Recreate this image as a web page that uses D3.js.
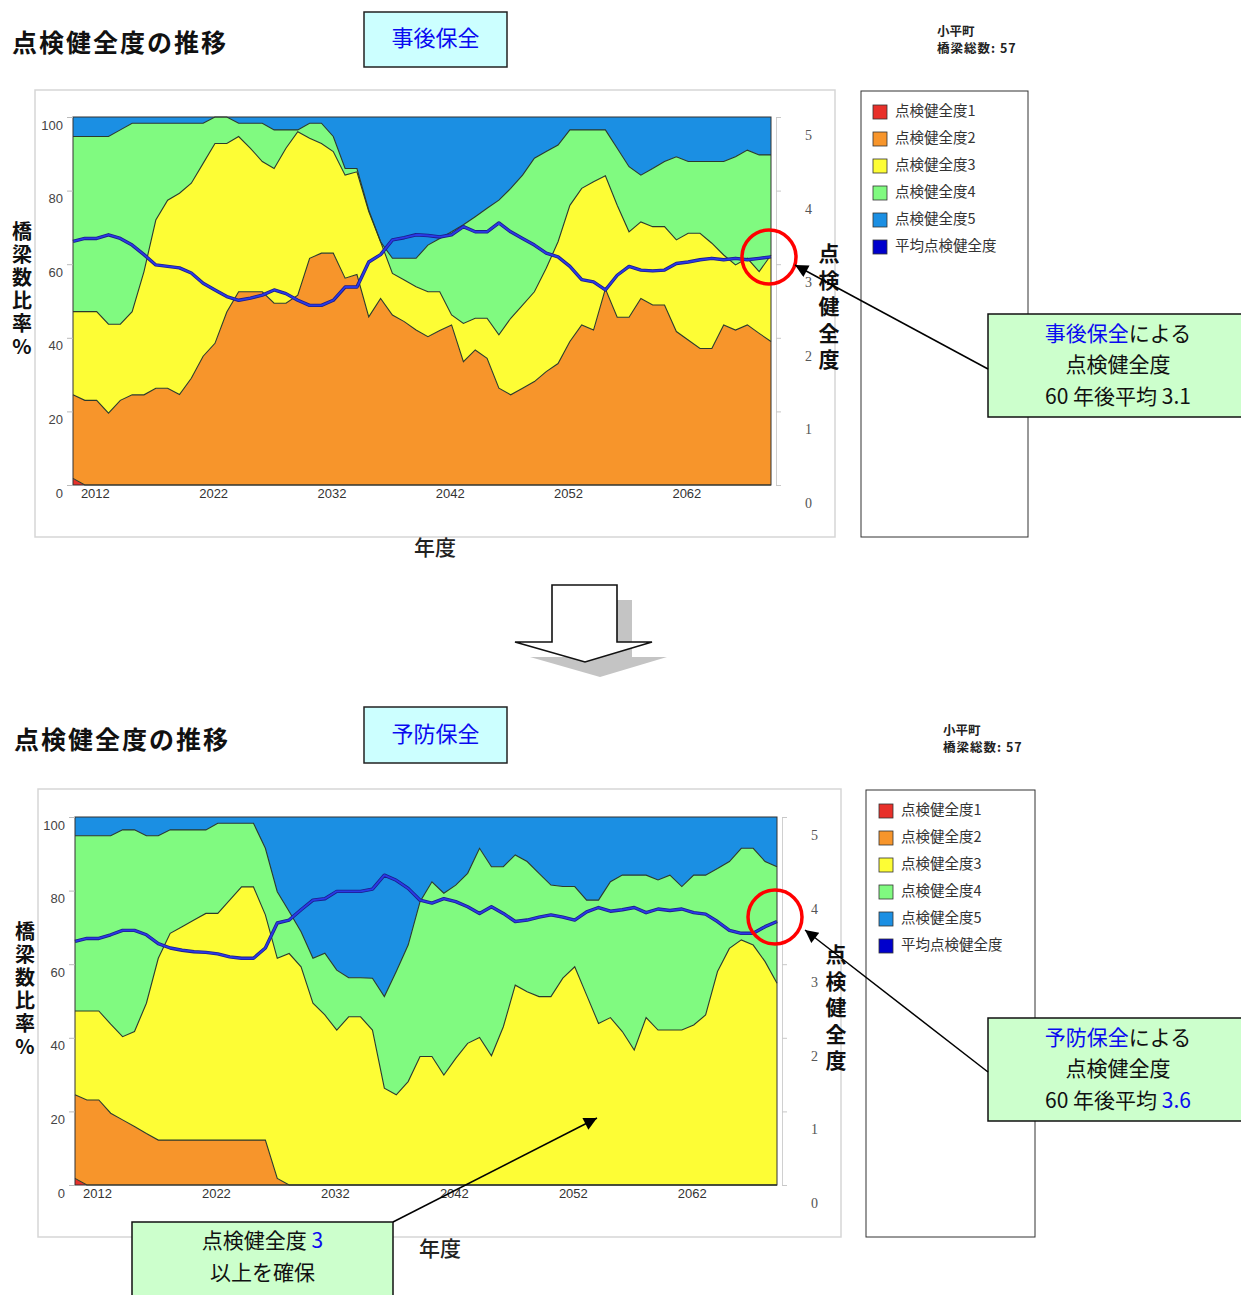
<!DOCTYPE html>
<html>
<head>
<meta charset="utf-8">
<script src="https://cdn.jsdelivr.net/npm/d3@7"></script>
<style>
  body { margin: 0; background: #fff; }
  svg { display: block; font-family: "Noto Sans CJK JP", "Noto Sans", sans-serif; }
  .vtitle { writing-mode: vertical-rl; text-orientation: upright; }
</style>
</head>
<body>
<div id="chart"></div>
<script>
// years 2011..2070 (60 annual steps)
const years = d3.range(2011, 2071);
const yearTicks = [2012, 2022, 2032, 2042, 2052, 2062];
const pctTicks = [0, 20, 40, 60, 80, 100];
const gradeTicks = [0, 1, 2, 3, 4, 5];

const levelKeys = ["lv1", "lv2", "lv3", "lv4", "lv5"];
const levelNames = ["点検健全度1", "点検健全度2", "点検健全度3", "点検健全度4", "点検健全度5"];
const avgName = "平均点検健全度";
const levelColors = ["#e8302a", "#f7952b", "#fdfd35", "#80fa80", "#1b8fe3"];

// 事後保全 : share of bridges (%) per grade
const jigoLv1 = [1.8,0,0,0,0,0,0,0,0,0, 0,0,0,0,0,0,0,0,0,0, 0,0,0,0,0,0,0,0,0,0,
  0,0,0,0,0,0,0,0,0,0, 0,0,0,0,0,0,0,0,0,0, 0,0,0,0,0,0,0,0,0,0];
const jigoLv2 = [22.7,23,23,19.5,23,24.5,24.5,26.3,26.3,24.6, 29,35,38.5,47,52.5,52.5,52.5,49.4,49.4,51.6,
  61.6,63,63,56.2,57.2,45.7,50.7,46.2,44.4,42.1, 40.3,42,43.5,33.5,36.7,34.4,26.3,24.5,26.3,28.1,
  30.8,33,39,43.5,42.1,53.3,45.6,45.6,50.7,48.9, 48.9,41.7,39.4,37.1,37.1,43.5,42.1,43.5,41.2,39];
const jigoLv3 = [22.6,24.1,24.1,24.2,20.7,22.6,33.5,45.7,51.1,54.7, 53,52.4,54.3,45.8,42.2,39,35.4,36.6,42.1,44.4,
  32.6,29.8,27.6,28,27.9,28.6,15.4,11.3,11.3,11.8, 12.2,10.5,2.7,10.4,8.6,10.9,14.5,20.8,22.6,24.4,
  28.1,33.1,37,37.1,40.3,30.7,30.4,23.2,20.8,21.3, 21.3,24.9,29,31.3,28.6,19,17.7,18.1,16.8,23.5];
const jigoLv4 = [47.6,47.6,47.6,51,52.8,51.2,40.3,26.3,20.9,19, 16.3,10.9,7.2,7.2,3.6,6.8,10.4,10.5,5,0.5,
  4.1,5.5,4.1,1.8,0.9,0.4,0,4.1,5.9,7.7, 12.7,14.5,22.6,26.8,27.6,29.9,36.6,35.3,35.3,36.3,
  31.7,26.3,20.5,15.9,14.1,12.5,15.5,17.7,12.7,15.8, 17.7,22.6,19.5,19.5,22.2,25.4,29.4,29.4,31.7,27.2];
const jigoLv5 = [5.3,5.3,5.3,5.3,3.5,1.7,1.7,1.7,1.7,1.7, 1.7,1.7,0,0,1.7,1.7,1.7,3.5,3.5,3.5,
  1.7,1.7,5.3,14,14,25.3,33.9,38.4,38.4,38.4, 34.8,33,31.2,29.3,27.1,24.8,22.6,19.4,15.8,11.2,
  9.4,7.6,3.5,3.5,3.5,3.5,8.5,13.5,15.8,14, 12.1,10.8,12.1,12.1,12.1,12.1,10.8,9,10.3,10.3];
const jigoAvg = [3.31,3.35,3.35,3.40,3.35,3.26,3.13,2.99,2.97,2.95, 2.88,2.74,2.65,2.56,2.51,2.54,2.58,2.65,2.60,2.51,
  2.44,2.44,2.51,2.69,2.69,3.03,3.13,3.33,3.36,3.40, 3.39,3.37,3.40,3.51,3.44,3.44,3.56,3.44,3.35,3.26,
  3.15,3.10,2.97,2.79,2.76,2.65,2.85,2.97,2.92,2.91, 2.92,3.01,3.03,3.06,3.08,3.06,3.08,3.06,3.08,3.10];

// 予防保全 : share of bridges (%) per grade
const yoboLv1 = [1.8,0,0,0,0,0,0,0,0,0, 0,0,0,0,0,0,0,0,0,0, 0,0,0,0,0,0,0,0,0,0,
  0,0,0,0,0,0,0,0,0,0, 0,0,0,0,0,0,0,0,0,0, 0,0,0,0,0,0,0,0,0,0];
const yoboLv2 = [22.7,23.1,23.1,19.5,17.7,15.9,14,12.2,12.2,12.2, 12.2,12.2,12.2,12.2,12.2,12.2,12.2,1.8,0,0,
  0,0,0,0,0,0,0,0,0,0, 0,0,0,0,0,0,0,0,0,0, 0,0,0,0,0,0,0,0,0,0, 0,0,0,0,0,0,0,0,0,0];
const yoboLv3 = [22.8,24.2,24.2,24.2,22.6,25.8,35.4,49.4,56.2,58, 59.8,61.6,61.6,65.2,68.8,68.8,61.2,59.8,62.9,59.3,
  49.4,46.2,42.1,45.7,45.7,42.1,26.3,24.5,28.1,34.9, 34.9,29.9,34.4,38.5,40.1,35.1,43,54.3,52.5,51.2,
  51.2,56.2,59.3,51.6,43.9,45.5,41.7,36.7,45.5,42.1, 42.1,42.1,43.5,46.2,58,64.3,66.6,65.2,60.7,54.8];
const yoboLv4 = [47.6,47.6,47.6,51.2,56.2,54.8,45.5,33.3,28.1,26.3, 24.5,22.7,24.5,20.9,17.3,17.3,18.1,18.1,11.4,9.5,
  12.2,16.8,16.3,10.6,10.6,14.1,24.9,33.5,37.1,42.1, 47.5,49.4,47.1,46.2,51.4,51.4,43.5,35.4,35.4,33.5,
  30.3,24.9,21.8,25.8,33.5,36.9,42.5,47.5,38.7,40.8, 42.1,39,40.7,38,28,23.6,24.9,26.3,27.2,31.7];
const yoboLv5 = [5.1,5.1,5.1,5.1,3.5,3.5,5.1,5.1,3.5,3.5, 3.5,3.5,1.7,1.7,1.7,1.7,8.5,20.3,25.7,31.2,
  38.4,37,41.6,43.7,43.7,43.8,48.8,42,34.8,23, 17.6,20.7,18.5,15.3,8.5,13.5,13.5,10.3,12.1,15.3,
  18.5,18.9,18.9,22.6,22.6,17.6,15.8,15.8,15.8,17.1, 15.8,18.9,15.8,15.8,14,12.1,8.5,8.5,12.1,13.5];
const yoboAvg = [3.31,3.35,3.35,3.40,3.46,3.46,3.40,3.28,3.22,3.19, 3.17,3.16,3.14,3.10,3.08,3.08,3.22,3.56,3.60,3.74,
  3.87,3.89,3.99,3.99,3.99,4.02,4.21,4.14,4.03,3.87, 3.83,3.89,3.85,3.78,3.69,3.78,3.69,3.58,3.60,3.64,
  3.67,3.64,3.60,3.71,3.77,3.72,3.74,3.77,3.70,3.75, 3.73,3.75,3.70,3.68,3.58,3.46,3.42,3.42,3.51,3.58];

const panels = [
  { series: [jigoLv1, jigoLv2, jigoLv3, jigoLv4, jigoLv5], avg: jigoAvg,
    x0: 73, x1: 771, y0: 117, y1: 485, frame: [35, 90, 800, 447],
    legend: [861, 91, 167, 446], legendY: 112, swatchX: 873,
    title: [12, 45], badge: [364, 12, 143, 55, "事後保全"], info: [937, 36],
    nendo: [435, 549], yTitle: [22, 221], rTitle: [829, 243] },
  { series: [yoboLv1, yoboLv2, yoboLv3, yoboLv4, yoboLv5], avg: yoboAvg,
    x0: 75, x1: 777, y0: 817, y1: 1185, frame: [38, 789, 803, 448],
    legend: [866, 790, 169, 447], legendY: 811, swatchX: 879,
    title: [14, 742], badge: [364, 707, 143, 56, "予防保全"], info: [943, 735],
    nendo: [440, 1250], yTitle: [25, 921], rTitle: [836, 944] }
];

const svg = d3.select("#chart").append("svg")
    .attr("width", 1241)
    .attr("height", 1295)
    .attr("viewBox", [0, 0, 1241, 1295]);

svg.append("defs").append("marker")
    .attr("id", "head")
    .attr("viewBox", "0 0 10 10")
    .attr("refX", 10).attr("refY", 5)
    .attr("markerWidth", 17).attr("markerHeight", 13)
    .attr("markerUnits", "userSpaceOnUse")
    .attr("orient", "auto")
  .append("path").attr("d", "M0,0L10,5L0,10Z").attr("fill", "#000");

function drawPanel(p) {
    const g = svg.append("g");

    // page title + badge + town info
    g.append("text").attr("x", p.title[0]).attr("y", p.title[1])
        .attr("dominant-baseline", "middle")
        .attr("font-size", 25).attr("font-weight", 700).attr("letter-spacing", 2)
        .attr("fill", "#111").text("点検健全度の推移");
    const [bx, by, bw, bh, btxt] = p.badge;
    g.append("rect").attr("x", bx).attr("y", by).attr("width", bw).attr("height", bh)
        .attr("fill", "#ccffff").attr("stroke", "#222").attr("stroke-width", 1.5);
    g.append("text").attr("x", bx + bw / 2).attr("y", by + bh / 2 + 1)
        .attr("text-anchor", "middle").attr("dominant-baseline", "middle")
        .attr("font-size", 22).attr("fill", "#0a0af0").text(btxt);
    g.append("text").attr("x", p.info[0]).attr("y", p.info[1])
        .attr("font-size", 12.5).attr("font-weight", 700).attr("fill", "#222").text("小平町");
    g.append("text").attr("x", p.info[0]).attr("y", p.info[1] + 17)
        .attr("font-size", 12.5).attr("font-weight", 700).attr("letter-spacing", 1)
        .attr("fill", "#222").text("橋梁総数: 57");

    // outer chart frame
    g.append("rect").attr("x", p.frame[0]).attr("y", p.frame[1])
        .attr("width", p.frame[2]).attr("height", p.frame[3])
        .attr("fill", "none").attr("stroke", "#d6d6d6").attr("stroke-width", 1.5);

    const x = d3.scaleLinear().domain([years[0], years[years.length - 1]]).range([p.x0, p.x1]);
    const y = d3.scaleLinear().domain([0, 100]).range([p.y1, p.y0]);
    const yR = d3.scaleLinear().domain([0, 5]).range([p.y1, p.y0]);

    const rows = years.map((yr, i) => {
        const r = { year: yr };
        levelKeys.forEach((k, j) => r[k] = p.series[j][i]);
        return r;
    });
    const stacked = d3.stack().keys(levelKeys)(rows);

    const area = d3.area()
        .x(d => x(d.data.year))
        .y0(d => y(d[0]))
        .y1(d => y(d[1]));
    const topLine = d3.line()
        .x(d => x(d.data.year))
        .y(d => y(d[1]));

    g.append("g").selectAll("path")
        .data(stacked)
        .join("path")
        .attr("fill", (d, i) => levelColors[i])
        .attr("d", area);

    g.append("g").selectAll("path")
        .data(stacked.slice(0, 4))
        .join("path")
        .attr("fill", "none")
        .attr("stroke", "#2b3a2b")
        .attr("stroke-width", 1.1)
        .attr("d", topLine);

    // average grade line (right axis)
    const avgLine = d3.line()
        .x((d, i) => x(years[i]))
        .y(d => yR(d));
    g.append("path").datum(p.avg)
        .attr("fill", "none").attr("stroke", "#1c1c8a").attr("stroke-width", 3.4)
        .attr("stroke-linejoin", "round").attr("d", avgLine);
    g.append("path").datum(p.avg)
        .attr("fill", "none").attr("stroke", "#2a3ae6").attr("stroke-width", 1.8)
        .attr("stroke-linejoin", "round").attr("d", avgLine);

    // plot border
    g.append("rect").attr("x", p.x0).attr("y", p.y0)
        .attr("width", p.x1 - p.x0).attr("height", p.y1 - p.y0)
        .attr("fill", "none").attr("stroke", "#333").attr("stroke-width", 1);

    // left axis
    g.append("g")
        .attr("transform", `translate(${p.x0},0)`)
        .call(d3.axisLeft(y).tickValues(pctTicks).tickSize(6).tickPadding(4).tickSizeOuter(0))
        .call(a => a.select(".domain").remove())
        .call(a => a.selectAll(".tick line").attr("stroke", "#bbb"))
        .call(a => a.selectAll(".tick text")
            .attr("y", 8).attr("font-size", 13).attr("fill", "#444")
            .attr("font-family", "Liberation Sans, Arial, sans-serif"));

    // bottom axis
    g.append("g")
        .attr("transform", `translate(0,${p.y1})`)
        .call(d3.axisBottom(x).tickValues(yearTicks).tickFormat(d3.format("d")).tickSize(0).tickPadding(4))
        .call(a => a.select(".domain").remove())
        .call(a => a.selectAll(".tick text")
            .attr("x", 10).attr("font-size", 13).attr("fill", "#333")
            .attr("font-family", "Liberation Sans, Arial, sans-serif"));

    // right axis (grade)
    g.append("g")
        .attr("transform", `translate(${p.x1 + 5},0)`)
        .call(d3.axisRight(yR).tickValues(gradeTicks).tickFormat(d3.format("d"))
            .tickSize(5).tickPadding(24).tickSizeOuter(0))
        .call(a => a.select(".domain").attr("stroke", "#d0d0d0"))
        .call(a => a.selectAll(".tick line").attr("stroke", "#c8c8c8"))
        .call(a => a.selectAll(".tick text")
            .attr("y", 18).attr("font-size", 14).attr("fill", "#555")
            .attr("font-family", "Liberation Serif, serif"));

    // axis titles (vertical writing)
    g.append("text").attr("class", "vtitle")
        .attr("x", p.yTitle[0]).attr("y", p.yTitle[1])
        .attr("font-size", 20).attr("font-weight", 700).attr("letter-spacing", 3)
        .attr("fill", "#111").text("橋梁数比率%");
    g.append("text").attr("class", "vtitle")
        .attr("x", p.rTitle[0]).attr("y", p.rTitle[1])
        .attr("font-size", 21).attr("font-weight", 700).attr("letter-spacing", 5.5)
        .attr("fill", "#111").text("点検健全度");
    g.append("text").attr("x", p.nendo[0]).attr("y", p.nendo[1])
        .attr("text-anchor", "middle").attr("dominant-baseline", "middle")
        .attr("font-size", 21).attr("font-weight", 500).attr("fill", "#222").text("年度");

    // legend
    const [lx, ly, lw, lh] = p.legend;
    g.append("rect").attr("x", lx).attr("y", ly).attr("width", lw).attr("height", lh)
        .attr("fill", "#fff").attr("stroke", "#333").attr("stroke-width", 1);
    const items = levelNames.map((n, i) => ({ name: n, color: levelColors[i] }))
        .concat([{ name: avgName, color: "#0000cc" }]);
    const li = g.append("g").selectAll("g")
        .data(items)
        .join("g")
        .attr("transform", (d, i) => `translate(${p.swatchX},${p.legendY + i * 27})`);
    li.append("rect").attr("x", 0).attr("y", -7).attr("width", 14).attr("height", 14)
        .attr("fill", d => d.color).attr("stroke", "#333").attr("stroke-width", 0.8);
    li.append("text").attr("x", 22).attr("y", 0).attr("dominant-baseline", "middle")
        .attr("font-size", 14.5).attr("fill", "#333").text(d => d.name);
}

panels.forEach(drawPanel);

// hollow down arrow between the two charts (with grey shadow)
const bigArrow = [[552, 585], [617, 585], [617, 642], [652, 642], [585, 662], [515, 642], [552, 642]];
svg.append("polygon")
    .attr("points", bigArrow.map(([a, b]) => [a + 15, b + 15]).join(" "))
    .attr("fill", "#c4c4c4");
svg.append("polygon")
    .attr("points", bigArrow.join(" "))
    .attr("fill", "#fff").attr("stroke", "#111").attr("stroke-width", 1.6);

// red circles at the 60-year average
svg.append("circle").attr("cx", 769).attr("cy", 257).attr("r", 27)
    .attr("fill", "none").attr("stroke", "#ff0000").attr("stroke-width", 3.5);
svg.append("circle").attr("cx", 775).attr("cy", 917).attr("r", 27)
    .attr("fill", "none").attr("stroke", "#ff0000").attr("stroke-width", 3.5);

// callout boxes
function callout(x0, y0, w, h, lines, lineY) {
    svg.append("rect").attr("x", x0).attr("y", y0).attr("width", w).attr("height", h)
        .attr("fill", "#ccffcc").attr("stroke", "#111").attr("stroke-width", 1.5);
    lines.forEach((parts, i) => {
        const t = svg.append("text")
            .attr("x", x0 + w / 2).attr("y", lineY[i])
            .attr("text-anchor", "middle").attr("dominant-baseline", "middle")
            .attr("font-size", 21).attr("fill", "#111");
        parts.forEach(([s, c]) => t.append("tspan").attr("fill", c).text(s));
    });
}
function pointer(x1, y1, x2, y2) {
    svg.append("line").attr("x1", x1).attr("y1", y1).attr("x2", x2).attr("y2", y2)
        .attr("stroke", "#000").attr("stroke-width", 1.5).attr("marker-end", "url(#head)");
}

const blue = "#0a0af0", ink = "#111";
callout(988, 314, 260, 103,
    [[["事後保全", blue], ["による", ink]], [["点検健全度", ink]], [["60 年後平均 3.1", ink]]],
    [335, 366, 398]);
pointer(988, 369, 795, 265);

callout(988, 1018, 260, 103,
    [[["予防保全", blue], ["による", ink]], [["点検健全度", ink]], [["60 年後平均 ", ink], ["3.6", blue]]],
    [1039, 1070, 1102]);
pointer(988, 1072, 805, 930);

callout(132, 1222, 261, 80,
    [[["点検健全度 ", ink], ["3", blue]], [["以上を確保", ink]]],
    [1242, 1274]);
pointer(393, 1222, 597, 1118);
</script>
</body>
</html>
